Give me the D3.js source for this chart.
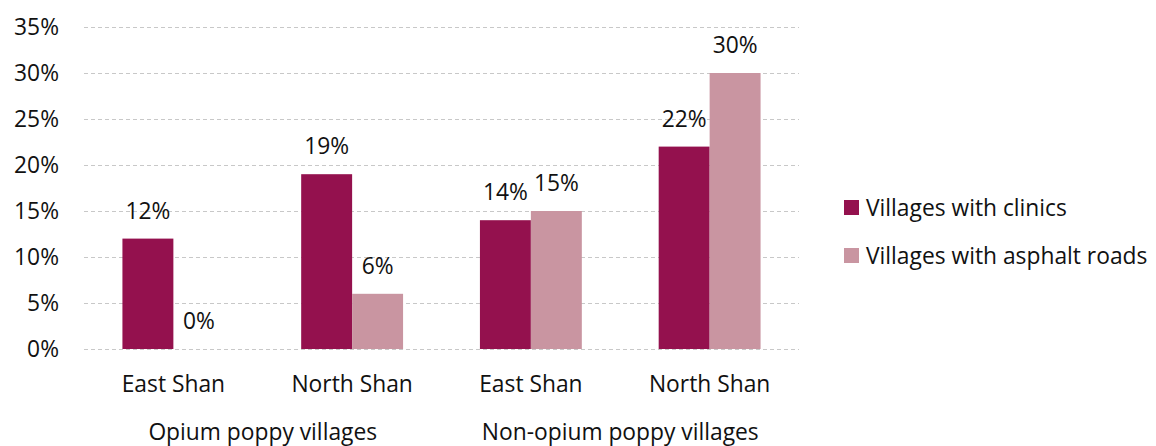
<!DOCTYPE html>
<html>
<head>
<meta charset="utf-8">
<script src="https://cdn.jsdelivr.net/npm/d3@7"></script>
<style>
  body { margin: 0; background: #fff; }
  svg text { font-family: "Open Sans", sans-serif; fill: #111; }
</style>
</head>
<body>
<svg id="chart"></svg>
<script>
// Data
const categories = ['East Shan', 'North Shan', 'East Shan ', 'North Shan '];
const categoryLabels = ['East Shan', 'North Shan', 'East Shan', 'North Shan'];
const groups = ['Opium poppy villages', 'Non-opium poppy villages'];
const groupSpans = [[0, 1], [2, 3]];
const seriesNames = ['Villages with clinics', 'Villages with asphalt roads'];
const clinics = [12, 19, 14, 22];
const asphalt = [0, 6, 15, 30];
const yTicks = [0, 5, 10, 15, 20, 25, 30, 35];

const fontSize = '22.8px';

function drawChart() {
    const width = 1156;
    const height = 446;
    const margin = { top: 27, right: 357, bottom: 97, left: 84 };
    const colors = d3.scaleOrdinal()
        .domain(seriesNames)
        .range(['#94114e', '#c995a1']);

    const svg = d3.select('#chart')
        .attr('width', width)
        .attr('height', height);

    const xScale = d3.scaleBand()
        .domain(categories)
        .range([margin.left, width - margin.right])
        .paddingInner(0.43)
        .paddingOuter(0.215);
    const xSub = d3.scaleBand()
        .domain(seriesNames)
        .range([0, xScale.bandwidth()]);
    const yScale = d3.scaleLinear()
        .domain([0, 35])
        .range([height - margin.bottom, margin.top]);

    // Grid lines
    svg.append('g')
        .selectAll('line')
        .data(yTicks)
        .join('line')
        .attr('x1', margin.left)
        .attr('x2', width - margin.right)
        .attr('y1', d => yScale(d) + 0.5)
        .attr('y2', d => yScale(d) + 0.5)
        .attr('stroke', '#c8c8c8')
        .attr('stroke-width', 1)
        .attr('stroke-dasharray', '4,3');

    // Y axis
    const yAxis = d3.axisLeft(yScale)
        .tickValues(yTicks)
        .tickFormat(d => d + '%')
        .tickSize(0)
        .tickPadding(0);
    const yG = svg.append('g')
        .attr('transform', 'translate(59,0)')
        .call(yAxis);
    yG.select('.domain').remove();
    yG.selectAll('text')
        .style('font-size', fontSize)
        .style('font-family', '"Open Sans", sans-serif')
        .attr('fill', '#111');

    // Bars
    const rows = categories.map((c, i) => ({ cat: c, values: [clinics[i], asphalt[i]] }));
    const barGroups = svg.append('g')
        .selectAll('g')
        .data(rows)
        .join('g')
        .attr('transform', d => `translate(${xScale(d.cat)},0)`);
    barGroups.selectAll('rect')
        .data(d => d.values.map((v, j) => ({ key: seriesNames[j], value: v })))
        .join('rect')
        .attr('x', d => xSub(d.key))
        .attr('y', d => yScale(d.value))
        .attr('width', xSub.bandwidth())
        .attr('height', d => yScale(0) - yScale(d.value))
        .attr('fill', d => colors(d.key));

    // Value labels
    barGroups.selectAll('text')
        .data(d => d.values.map((v, j) => ({ key: seriesNames[j], value: v })))
        .join('text')
        .attr('x', d => xSub(d.key) + xSub.bandwidth() / 2)
        .attr('y', d => yScale(d.value) - 20)
        .attr('text-anchor', 'middle')
        .style('font-size', fontSize)
        .text(d => d.value + '%');

    // X axis labels
    const xAxis = d3.axisBottom(xScale)
        .tickSize(0)
        .tickPadding(0)
        .tickFormat((d, i) => categoryLabels[i]);
    const xG = svg.append('g')
        .attr('transform', `translate(0,${yScale(0) + 43})`)
        .call(xAxis);
    xG.select('.domain').remove();
    xG.selectAll('text')
        .attr('dy', 0)
        .style('font-size', fontSize)
        .style('font-family', '"Open Sans", sans-serif')
        .attr('fill', '#111');

    // Group labels
    svg.append('g')
        .selectAll('text')
        .data(groups)
        .join('text')
        .attr('x', (d, i) => {
            const a = xScale(categories[groupSpans[i][0]]);
            const b = xScale(categories[groupSpans[i][1]]) + xScale.bandwidth();
            return (a + b) / 2;
        })
        .attr('y', yScale(0) + 91)
        .attr('text-anchor', 'middle')
        .style('font-size', fontSize)
        .text(d => d);

    // Legend
    const legend = svg.append('g')
        .attr('transform', 'translate(844,200)')
        .selectAll('g')
        .data(seriesNames)
        .join('g')
        .attr('transform', (d, i) => `translate(0,${i * 48})`);
    legend.append('rect')
        .attr('width', 15)
        .attr('height', 15)
        .attr('fill', d => colors(d));
    legend.append('text')
        .attr('x', 22)
        .attr('y', 16)
        .style('font-size', fontSize)
        .text(d => d);
}

drawChart();
</script>
</body>
</html>
